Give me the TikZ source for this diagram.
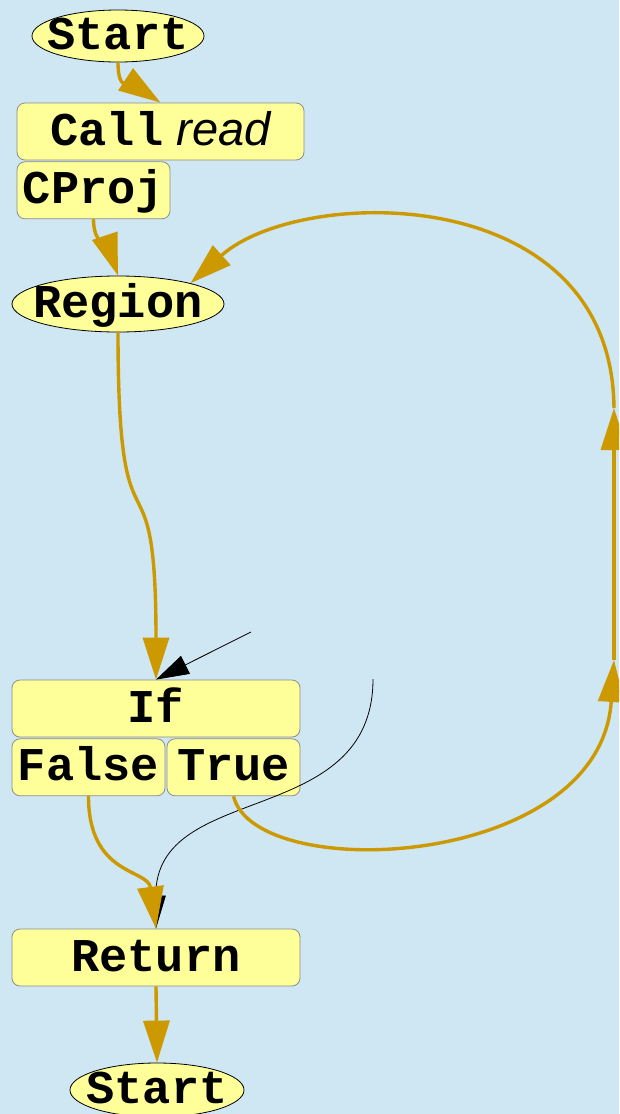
\documentclass[tikz,border=0pt]{standalone}
\usepackage{fontspec}
\setmonofont{Liberation Mono}
\newfontfamily\readfont{Liberation Sans}
\usepackage{tikz}
\usetikzlibrary{shapes.geometric, arrows.meta}
\usetikzlibrary{positioning}

\definecolor{bgblue}{RGB}{207,230,243}
\definecolor{boxyellow}{RGB}{255,255,153}
\definecolor{flowgold}{RGB}{204,153,0}

\begin{document}
\begin{tikzpicture}[
                x=1pt, y=-1pt,
                every node/.style={
                        fill=boxyellow,
                        font=\fontsize{47}{50}\selectfont\ttfamily\bfseries,
                        text height=27pt,
                        text depth=0pt,
                        inner ysep=0pt
                    },
                terminal/.style={
                        draw=black,
                        line width=0.8pt,
                        ellipse,
                        inner xsep=-15pt,
                        minimum height=52pt
                    },
                stepbox/.style={
                        draw=black!45,
                        line width=0.8pt,
                        rounded corners=8pt,
                        inner xsep=0pt,
                        minimum height=57pt
                    },
                flow/.style={
                        draw=flowgold,
                        line width=3.4pt,
                        -{Triangle[length=42pt,width=26pt]}
                    },
                stub/.style={
                        draw=black,
                        line width=0.8pt,
                        -{Triangle[length=33pt,width=20pt]}
                    }
            ]

            % Background
            \fill[bgblue] (0,0) rectangle (619,1114);
            \useasboundingbox (0,0) rectangle (619,1114);
            \clip (0,0) rectangle (619,1114);

            % Nodes
            \node[terminal, minimum width=172pt] (start) at (118,36) {Start};
            \node[stepbox, minimum width=287pt] (call) at (160.5,131.5) {Call{\readfont\mdseries\itshape\ read}};
            \node[stepbox, minimum width=153pt, below right=1pt and 0pt of call.south west] (cproj) {CProj};
            \node[terminal, minimum width=212pt, minimum height=56pt] (region) at (118,304) {Region};
            \node[stepbox, minimum width=288pt] (ifbox) at (156,708.5) {If};
            \node[stepbox, minimum width=153pt, below right=1pt and 0pt of ifbox.south west] (false) {False};
            \node[stepbox, minimum width=133pt, below left=1pt and 0pt of ifbox.south east] (true) {True};
            \node[stepbox, minimum width=288pt] (return) at (156,957.5) {Return};
            \node[terminal, minimum width=174pt, minimum height=54pt] (end) at (157,1090) {Start};

            % Loose ends
            \coordinate (loopin) at (614,660);
            \coordinate (loopout) at (614,408);
            \coordinate (stubA) at (251,632);
            \coordinate (stubB) at (373,679);

            % Thin black edges
            \draw[stub] (stubA) -- (ifbox.north);
            \draw[stub] (stubB) .. controls (373,830) and (155,780) .. (return.north);

            % Control flow
            \draw[flow] (start.south) .. controls +(0,30) and +(-30,-20) .. (call.north);
            \draw[flow] (cproj.south) .. controls +(0,25) and +(-10,-30) .. (region.north);
            \draw[flow] (region.south) .. controls (118,580) and (156,430) .. (ifbox.north);
            \draw[flow] (false.south) .. controls +(0,80) and +(-8,-60) .. (return.north);
            \draw[flow] (true.south) .. controls (255,885) and (600,870) .. (loopin);
            \draw[flow] (loopin) -- (loopout);
            \draw[flow] (loopout) .. controls (612,180) and (300,185) .. (region.16);
            \draw[flow] (return.south) -- (end.north);

\end{tikzpicture}
\end{document}
